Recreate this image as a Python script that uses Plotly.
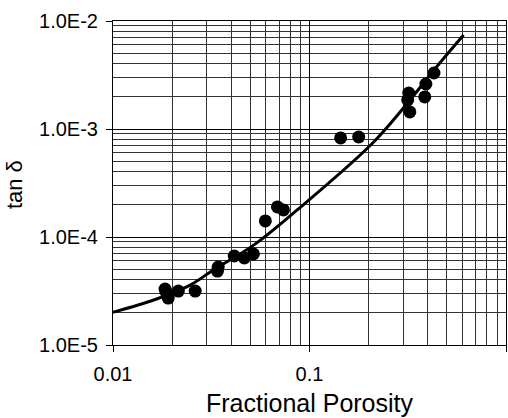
import plotly.graph_objects as go

# Measured data points (fractional porosity, tan delta)
porosity = [0.0184, 0.0186, 0.0191, 0.0215, 0.0262, 0.0340, 0.0343, 0.0414, 0.0466, 0.0518,
            0.0596, 0.0687, 0.0737, 0.144, 0.178, 0.320, 0.316, 0.324, 0.391, 0.386, 0.430]
tan_delta = [3.3e-5, 3.1e-5, 2.72e-5, 3.16e-5, 3.16e-5, 4.84e-5, 5.27e-5, 6.67e-5, 6.39e-5, 6.97e-5,
             1.41e-4, 1.90e-4, 1.78e-4, 8.26e-4, 8.43e-4, 2.15e-3, 1.86e-3, 1.44e-3, 2.61e-3, 1.98e-3, 3.30e-3]

# Fitted curve
fit_porosity = [0.010, 0.0164, 0.0247, 0.0324, 0.0524, 0.0872, 0.2048, 0.3029, 0.4482, 0.6083]
fit_tan_delta = [2.01e-5, 2.64e-5, 3.59e-5, 4.95e-5, 8.5e-5, 1.80e-4, 7.11e-4, 1.59e-3, 3.85e-3, 7.42e-3]

x_tickvals = [0.01, 0.1, 1]
x_ticktext = ["0.01", "0.1", "1"]
y_tickvals = [1e-5, 1e-4, 1e-3, 1e-2]
y_ticktext = ["1.0E-5", "1.0E-4", "1.0E-3", "1.0E-2"]

FONT = "Liberation Sans, Arial, sans-serif"

fig = go.Figure()
fig.add_trace(go.Scatter(x=fit_porosity, y=fit_tan_delta, mode="lines",
                         line=dict(color="black", width=3, shape="spline", smoothing=1.0),
                         hoverinfo="skip"))
fig.add_trace(go.Scatter(x=porosity, y=tan_delta, mode="markers",
                         marker=dict(color="black", size=13, line=dict(width=0))))

axis_common = dict(
    showline=True, linecolor="black", linewidth=1, mirror=True,
    showgrid=True, gridcolor="black", gridwidth=1,
    ticks="outside", ticklen=6, tickcolor="black", tickwidth=1,
    tickfont=dict(family=FONT, size=20, color="black"),
    zeroline=False,
    minor=dict(dtick="D1", showgrid=True, gridcolor="#333", gridwidth=1, ticks=""),
)

fig.update_xaxes(type="log", range=[-2, 0], tickvals=x_tickvals, ticktext=x_ticktext,
                 ticklabelstandoff=5, **axis_common)
fig.update_yaxes(type="log", range=[-5, -2], tickvals=y_tickvals, ticktext=y_ticktext,
                 ticklabelstandoff=4, **axis_common)

fig.add_annotation(text="Fractional Porosity", xref="paper", yref="paper", x=0.5, y=-0.178,
                   xanchor="center", yanchor="middle", showarrow=False,
                   font=dict(family=FONT, size=25, color="black"))
fig.add_annotation(text="tan δ", xref="paper", yref="paper", x=-0.249, y=0.494,
                   xanchor="center", yanchor="middle", showarrow=False, textangle=-90,
                   font=dict(family=FONT, size=22, color="black"))

fig.update_layout(
    width=508, height=418,
    margin=dict(l=113, r=2, t=21, b=73),
    paper_bgcolor="white", plot_bgcolor="white",
    showlegend=False,
)

fig.write_html("out.html")
